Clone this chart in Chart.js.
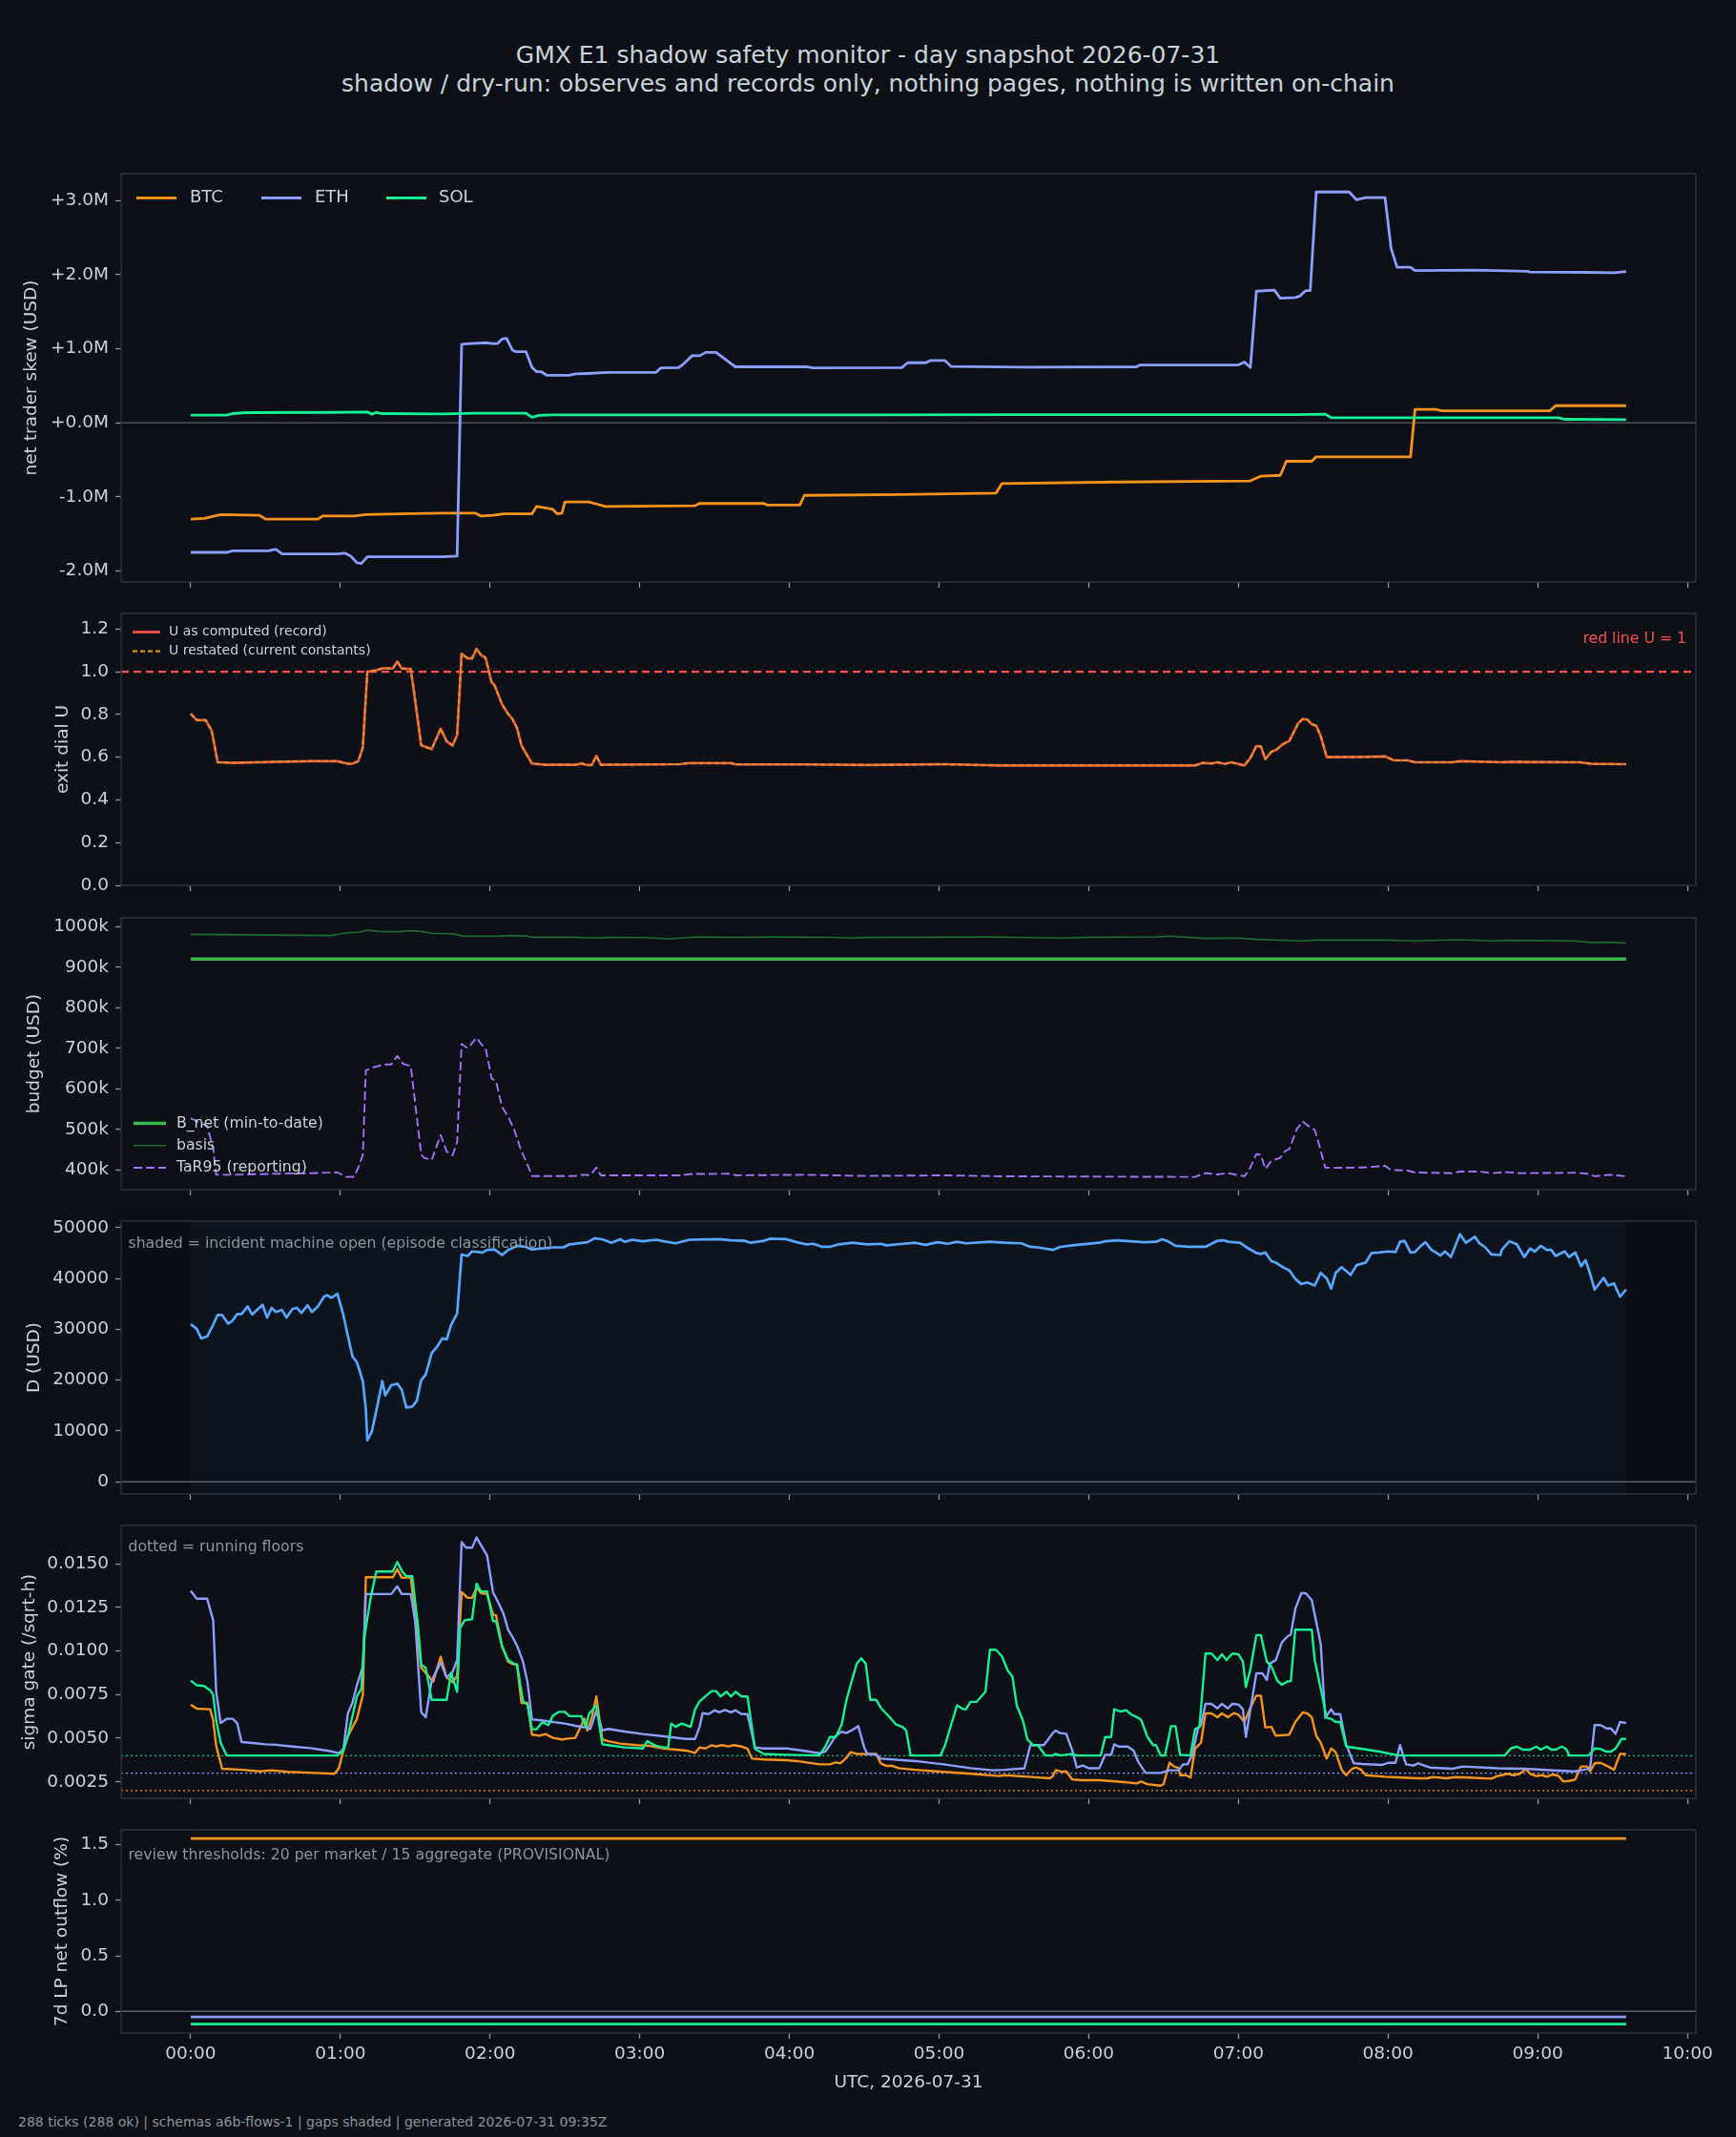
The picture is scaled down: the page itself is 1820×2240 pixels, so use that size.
<!DOCTYPE html>
<html><head><meta charset="utf-8">
<script src="https://cdn.jsdelivr.net/npm/chart.js@4.4.1/dist/chart.umd.min.js"></script>
<style>
html,body{margin:0;padding:0;background:#0d1117;}
body{width:1820px;height:2240px;position:relative;overflow:hidden;font-family:"DejaVu Sans",sans-serif;}
.t{position:absolute;left:0;width:1820px;text-align:center;color:#c9d1d9;font-size:25px;line-height:30px;white-space:nowrap;}
canvas{position:absolute;left:0;}
#foot{position:absolute;left:19px;top:2214px;color:#8b949e;font-size:14px;line-height:20px;white-space:nowrap;}
</style></head><body>
<div class="t" style="top:43px">GMX E1 shadow safety monitor - day snapshot 2026-07-31</div>
<div class="t" style="top:73px">shadow / dry-run: observes and records only, nothing pages, nothing is written on-chain</div>
<canvas id="c1" width="1820" height="452" style="top:172px"></canvas>
<canvas id="c2" width="1820" height="309" style="top:633px"></canvas>
<canvas id="c3" width="1820" height="309" style="top:952px"></canvas>
<canvas id="c4" width="1820" height="310" style="top:1270px"></canvas>
<canvas id="c5" width="1820" height="310" style="top:1589px"></canvas>
<canvas id="c6" width="1820" height="292" style="top:1908px"></canvas>
<div id="foot">288 ticks (288 ok) | schemas a6b-flows-1 | gaps shaded | generated 2026-07-31 09:35Z</div>
<script>
// ---------------- DATA (x = hours since 00:00 UTC) ----------------
const markets = ['BTC', 'ETH', 'SOL'];
const hourTicks = [0,1,2,3,4,5,6,7,8,9,10];
const hourLabels = ['00:00','01:00','02:00','03:00','04:00','05:00','06:00','07:00','08:00','09:00','10:00'];

// panel 1: net trader skew, USD millions
const skewTicks = [-2,-1,0,1,2,3];
const skewTickLabels = ['-2.0M','-1.0M','+0.0M','+1.0M','+2.0M','+3.0M'];
const skewBtcM = [[0,-1.30],[0.09,-1.29],[0.20,-1.24],[0.46,-1.25],[0.50,-1.30],[0.85,-1.30],[0.88,-1.26],[1.09,-1.26],[1.17,-1.24],[1.39,-1.23],[1.68,-1.22],[1.90,-1.22],[1.94,-1.26],[2.02,-1.25],[2.09,-1.23],[2.28,-1.23],[2.31,-1.13],[2.37,-1.15],[2.42,-1.17],[2.45,-1.23],[2.48,-1.22],[2.50,-1.07],[2.66,-1.07],[2.70,-1.09],[2.77,-1.13],[3.37,-1.12],[3.40,-1.09],[3.83,-1.09],[3.85,-1.11],[4.07,-1.11],[4.10,-0.98],[4.75,-0.97],[5.38,-0.95],[5.42,-0.82],[6.20,-0.80],[7.08,-0.785],[7.15,-0.72],[7.28,-0.71],[7.32,-0.52],[7.49,-0.52],[7.52,-0.46],[8.15,-0.46],[8.18,0.18],[8.32,0.18],[8.36,0.16],[9.08,0.16],[9.12,0.23],[9.59,0.23]];
const skewEthM = [[0,-1.75],[0.24,-1.75],[0.28,-1.73],[0.52,-1.73],[0.56,-1.71],[0.57,-1.71],[0.61,-1.77],[0.98,-1.77],[1.03,-1.76],[1.07,-1.80],[1.11,-1.89],[1.14,-1.90],[1.18,-1.81],[1.68,-1.81],[1.78,-1.80],[1.81,1.06],[1.87,1.07],[1.98,1.08],[2.01,1.07],[2.05,1.07],[2.08,1.13],[2.11,1.14],[2.15,0.98],[2.17,0.96],[2.24,0.96],[2.28,0.75],[2.31,0.69],[2.34,0.69],[2.38,0.64],[2.53,0.64],[2.57,0.66],[2.65,0.665],[2.79,0.68],[3.11,0.68],[3.14,0.74],[3.26,0.745],[3.29,0.79],[3.35,0.905],[3.40,0.905],[3.44,0.95],[3.51,0.95],[3.64,0.755],[4.12,0.755],[4.16,0.74],[4.75,0.745],[4.79,0.81],[4.91,0.81],[4.94,0.84],[5.04,0.84],[5.08,0.76],[5.59,0.75],[6.32,0.755],[6.34,0.78],[7.00,0.78],[7.04,0.82],[7.08,0.745],[7.12,1.776],[7.24,1.79],[7.28,1.68],[7.38,1.69],[7.41,1.71],[7.45,1.785],[7.48,1.785],[7.52,3.115],[7.74,3.115],[7.79,3.01],[7.85,3.04],[7.98,3.04],[8.02,2.355],[8.06,2.10],[8.15,2.10],[8.18,2.055],[8.58,2.06],[8.93,2.045],[8.95,2.035],[9.33,2.03],[9.51,2.025],[9.59,2.04]];
const skewSolM = [[0,0.103],[0.24,0.103],[0.28,0.124],[0.37,0.137],[0.94,0.14],[1.18,0.146],[1.21,0.116],[1.24,0.14],[1.28,0.124],[1.68,0.12],[1.90,0.13],[2.24,0.13],[2.28,0.073],[2.33,0.10],[2.42,0.107],[4.52,0.107],[5.5,0.11],[7.38,0.11],[7.58,0.116],[7.62,0.069],[9.14,0.069],[9.18,0.047],[9.59,0.043]];

// panel 2: exit dial U
const uTicks = [0,0.2,0.4,0.6,0.8,1.0,1.2];
const uTickLabels = ['0.0','0.2','0.4','0.6','0.8','1.0','1.2'];
const redLineU = 1;
const uRecord = [[0,0.803],[0.04,0.773],[0.10,0.773],[0.14,0.724],[0.18,0.576],[0.28,0.573],[0.57,0.578],[0.80,0.581],[0.98,0.581],[1.05,0.569],[1.08,0.569],[1.12,0.581],[1.15,0.647],[1.18,1.0],[1.24,1.007],[1.28,1.015],[1.35,1.015],[1.38,1.047],[1.41,1.015],[1.47,1.012],[1.49,0.914],[1.54,0.655],[1.57,0.648],[1.61,0.637],[1.67,0.733],[1.71,0.674],[1.75,0.655],[1.78,0.704],[1.81,1.084],[1.85,1.062],[1.88,1.062],[1.91,1.107],[1.94,1.077],[1.97,1.065],[2.01,0.951],[2.03,0.936],[2.08,0.847],[2.12,0.803],[2.15,0.778],[2.18,0.736],[2.21,0.655],[2.24,0.618],[2.28,0.57],[2.37,0.564],[2.57,0.564],[2.61,0.57],[2.65,0.563],[2.68,0.563],[2.71,0.606],[2.74,0.564],[3.27,0.567],[3.33,0.572],[3.61,0.572],[3.64,0.566],[4.09,0.566],[4.52,0.563],[5.03,0.567],[5.40,0.561],[6.71,0.561],[6.76,0.573],[6.82,0.570],[6.86,0.576],[6.91,0.568],[6.95,0.576],[7.04,0.561],[7.08,0.596],[7.12,0.652],[7.15,0.65],[7.18,0.591],[7.22,0.625],[7.25,0.633],[7.30,0.662],[7.34,0.676],[7.40,0.759],[7.43,0.778],[7.46,0.776],[7.49,0.754],[7.52,0.747],[7.55,0.699],[7.59,0.60],[7.64,0.60],[7.83,0.601],[7.98,0.603],[8.04,0.585],[8.13,0.585],[8.18,0.576],[8.43,0.576],[8.48,0.581],[8.76,0.576],[8.82,0.578],[9.28,0.576],[9.36,0.569],[9.59,0.567]];
const uRestated = [[0,0.803],[0.04,0.773],[0.10,0.773],[0.14,0.724],[0.18,0.576],[0.28,0.573],[0.57,0.578],[0.80,0.581],[0.98,0.581],[1.05,0.569],[1.08,0.569],[1.12,0.581],[1.15,0.647],[1.18,1.0],[1.24,1.007],[1.28,1.015],[1.35,1.015],[1.38,1.047],[1.41,1.015],[1.47,1.012],[1.49,0.914],[1.54,0.655],[1.57,0.648],[1.61,0.637],[1.67,0.733],[1.71,0.674],[1.75,0.655],[1.78,0.704],[1.81,1.084],[1.85,1.062],[1.88,1.062],[1.91,1.107],[1.94,1.077],[1.97,1.065],[2.01,0.951],[2.03,0.936],[2.08,0.847],[2.12,0.803],[2.15,0.778],[2.18,0.736],[2.21,0.655],[2.24,0.618],[2.28,0.57],[2.37,0.564],[2.57,0.564],[2.61,0.57],[2.65,0.563],[2.68,0.563],[2.71,0.606],[2.74,0.564],[3.27,0.567],[3.33,0.572],[3.61,0.572],[3.64,0.566],[4.09,0.566],[4.52,0.563],[5.03,0.567],[5.40,0.561],[6.71,0.561],[6.76,0.573],[6.82,0.570],[6.86,0.576],[6.91,0.568],[6.95,0.576],[7.04,0.561],[7.08,0.596],[7.12,0.652],[7.15,0.65],[7.18,0.591],[7.22,0.625],[7.25,0.633],[7.30,0.662],[7.34,0.676],[7.40,0.759],[7.43,0.778],[7.46,0.776],[7.49,0.754],[7.52,0.747],[7.55,0.699],[7.59,0.60],[7.64,0.60],[7.83,0.601],[7.98,0.603],[8.04,0.585],[8.13,0.585],[8.18,0.576],[8.43,0.576],[8.48,0.581],[8.76,0.576],[8.82,0.578],[9.28,0.576],[9.36,0.569],[9.59,0.567]];

// panel 3: budget, thousands of USD
const budgetTicks = [400,500,600,700,800,900,1000];
const budgetTickLabels = ['400k','500k','600k','700k','800k','900k','1000k'];
const bNetK = [[0,920],[9.59,920]];
const basisK = [[0,981],[0.20,980.4],[0.94,978],[1.02,983.5],[1.13,986.7],[1.18,991.4],[1.26,988],[1.39,987.5],[1.46,990],[1.54,988],[1.61,983.5],[1.76,982],[1.81,977],[2.05,976.5],[2.13,978],[2.24,977],[2.28,974],[2.53,974],[2.72,971.8],[2.79,973.3],[3.02,973],[3.20,970],[3.39,975],[3.53,974],[3.68,973.5],[3.90,975],[4.09,974],[4.27,973.5],[4.42,972],[4.52,973.3],[4.99,974],[5.33,975],[5.59,973],[5.81,971.8],[6.04,974],[6.45,975],[6.54,976.5],[6.78,971],[7.01,972],[7.12,968.6],[7.42,964.7],[7.53,967],[7.98,967],[8.17,964.7],[8.47,967.8],[8.69,965],[8.80,966.3],[9.25,965],[9.36,960.8],[9.48,961.5],[9.59,959.2]];
const tar95K = [[0,527.8],[0.06,516],[0.11,508],[0.15,453],[0.17,388],[0.28,388],[0.57,390.6],[0.80,392],[0.98,393.7],[1.04,382.7],[1.09,383],[1.12,406],[1.15,437.6],[1.17,645.5],[1.22,653],[1.29,660],[1.34,660],[1.38,681],[1.42,661.6],[1.47,656],[1.50,563],[1.54,437.6],[1.56,430],[1.61,424.3],[1.67,486],[1.71,445.5],[1.75,436],[1.78,469],[1.81,710.6],[1.85,700.4],[1.91,726],[1.94,710.6],[1.97,700.4],[2.01,626],[2.04,618],[2.08,555],[2.12,532],[2.16,500.4],[2.21,445.5],[2.24,422],[2.28,385],[2.57,385],[2.61,388],[2.67,387],[2.71,406],[2.74,386.7],[3.27,386.7],[3.35,390],[3.61,390.6],[3.64,386.7],[4.09,388],[4.52,385],[5.03,386.7],[5.40,384.3],[6.71,382.7],[6.78,392],[6.86,389],[6.93,392],[7.04,384.3],[7.07,398.4],[7.12,439],[7.15,437],[7.18,402.4],[7.22,422],[7.28,430],[7.31,445.5],[7.34,451.8],[7.39,500.4],[7.43,519],[7.47,508],[7.51,499],[7.54,461],[7.58,406],[7.62,405],[7.83,406],[7.98,410],[8.02,400],[8.13,398.4],[8.18,393.7],[8.43,392],[8.48,396],[8.61,396],[8.69,392],[8.80,394.5],[8.88,392],[9.25,393],[9.33,390.6],[9.38,384.3],[9.48,388],[9.59,384.3]];

// panel 4: D, USD
const dTicks = [0,10000,20000,30000,40000,50000];
const dTickLabels = ['0','10000','20000','30000','40000','50000'];
const incidentOpen = [[0, 9.586]];
const dUsd = [[0,31000],[0.04,30100],[0.07,28200],[0.11,28600],[0.15,30900],[0.18,32800],[0.21,32800],[0.25,31100],[0.28,31700],[0.31,33000],[0.34,33000],[0.38,34500],[0.41,32900],[0.44,33700],[0.48,34800],[0.51,32300],[0.54,34200],[0.57,33400],[0.61,33800],[0.64,32300],[0.68,34000],[0.71,34200],[0.74,33200],[0.78,34700],[0.81,33400],[0.85,34500],[0.89,36400],[0.91,36700],[0.94,36200],[0.98,37000],[1.02,32800],[1.05,28700],[1.08,24700],[1.11,23500],[1.15,19800],[1.17,14300],[1.18,8200],[1.21,9900],[1.24,14000],[1.28,19800],[1.30,17000],[1.34,19000],[1.38,19300],[1.41,18100],[1.44,14600],[1.48,14800],[1.51,15900],[1.54,20000],[1.57,21100],[1.61,25300],[1.65,26700],[1.68,28200],[1.71,28000],[1.74,30900],[1.78,33100],[1.81,44700],[1.85,44400],[1.88,45300],[1.95,45100],[1.98,45600],[2.03,45700],[2.08,44600],[2.12,45600],[2.18,46400],[2.24,46200],[2.28,45700],[2.42,46100],[2.49,46100],[2.53,46700],[2.65,47100],[2.70,47900],[2.76,47600],[2.81,47000],[2.87,47700],[2.90,47200],[2.95,47600],[3.02,47300],[3.11,47600],[3.16,47300],[3.24,46900],[3.33,47600],[3.53,47700],[3.61,47500],[3.70,47400],[3.74,47000],[3.83,47400],[3.87,47800],[3.98,47700],[4.05,47100],[4.11,46700],[4.16,46800],[4.22,46200],[4.27,46200],[4.33,46700],[4.42,47000],[4.52,46700],[4.61,46800],[4.65,46500],[4.76,46800],[4.84,47000],[4.91,46600],[4.99,47100],[5.06,46800],[5.12,47200],[5.18,46900],[5.34,47200],[5.44,47000],[5.55,46900],[5.61,46200],[5.66,46100],[5.76,45600],[5.81,46200],[5.89,46500],[6.07,47000],[6.11,47300],[6.19,47500],[6.37,47100],[6.45,47200],[6.49,47700],[6.53,47300],[6.58,46400],[6.67,46200],[6.78,46200],[6.86,47400],[6.90,47500],[6.93,47200],[7.01,47000],[7.05,46200],[7.12,45000],[7.15,44800],[7.18,45100],[7.22,43400],[7.25,43100],[7.31,42000],[7.34,41600],[7.38,39900],[7.42,38900],[7.46,39200],[7.51,38600],[7.55,41100],[7.59,40000],[7.62,38000],[7.65,41100],[7.69,42200],[7.75,40700],[7.79,42600],[7.85,43100],[7.89,45000],[7.94,45100],[8.00,45300],[8.05,45200],[8.08,47200],[8.11,47400],[8.15,45100],[8.18,45200],[8.22,46400],[8.25,47100],[8.29,45600],[8.33,44900],[8.35,44500],[8.38,45300],[8.42,44200],[8.48,48700],[8.52,47000],[8.58,48200],[8.61,46900],[8.65,46100],[8.69,44700],[8.75,44600],[8.76,45600],[8.81,47300],[8.86,46700],[8.91,44200],[8.95,45900],[8.98,45300],[9.02,46400],[9.06,45600],[9.09,45600],[9.12,44400],[9.18,45300],[9.21,44200],[9.25,45100],[9.29,42400],[9.32,43600],[9.35,40900],[9.38,37800],[9.44,40100],[9.47,38600],[9.51,39000],[9.55,36400],[9.59,37800]];

// panel 5: sigma gate (/sqrt-h)
const sigmaTicks = [0.0025,0.005,0.0075,0.01,0.0125,0.015];
const sigmaTickLabels = ['0.0025','0.0050','0.0075','0.0100','0.0125','0.0150'];
const sigmaFloors = [0.002, 0.003, 0.004]; // BTC, ETH, SOL running floors
const sigmaBtc = [[0,0.00693],[0.04,0.00669],[0.13,0.00666],[0.15,0.00602],[0.17,0.00456],[0.21,0.00325],[0.35,0.00319],[0.46,0.00310],[0.54,0.00316],[0.65,0.00307],[0.83,0.00301],[0.96,0.00296],[0.99,0.00328],[1.02,0.00429],[1.05,0.00511],[1.11,0.00611],[1.15,0.00748],[1.17,0.01422],[1.35,0.01422],[1.38,0.01468],[1.41,0.01419],[1.47,0.01422],[1.49,0.01277],[1.54,0.00903],[1.57,0.00875],[1.62,0.00824],[1.67,0.00967],[1.71,0.00848],[1.75,0.00821],[1.78,0.00857],[1.81,0.01337],[1.85,0.01304],[1.88,0.01304],[1.91,0.01364],[1.94,0.01331],[1.98,0.01326],[2.02,0.01207],[2.04,0.01204],[2.08,0.01030],[2.12,0.00939],[2.15,0.00925],[2.18,0.00922],[2.21,0.00702],[2.25,0.00702],[2.28,0.00520],[2.33,0.00514],[2.37,0.00524],[2.42,0.00502],[2.48,0.00493],[2.52,0.00498],[2.57,0.00502],[2.59,0.00538],[2.63,0.00611],[2.65,0.00544],[2.68,0.00620],[2.71,0.00739],[2.75,0.00493],[2.79,0.00483],[2.87,0.00469],[2.98,0.00460],[3.07,0.00456],[3.16,0.00441],[3.31,0.00429],[3.37,0.00416],[3.40,0.00447],[3.44,0.00441],[3.48,0.00460],[3.51,0.00453],[3.55,0.00460],[3.59,0.00453],[3.63,0.00460],[3.68,0.00452],[3.72,0.00440],[3.75,0.00383],[3.83,0.00378],[3.98,0.00374],[4.05,0.00369],[4.20,0.00350],[4.27,0.00350],[4.31,0.00361],[4.34,0.00356],[4.38,0.00387],[4.41,0.00420],[4.45,0.00410],[4.58,0.00410],[4.61,0.00356],[4.65,0.00341],[4.69,0.00341],[4.73,0.00328],[4.84,0.00319],[5.03,0.00307],[5.21,0.00296],[5.40,0.00283],[5.44,0.00288],[5.59,0.00279],[5.74,0.00270],[5.76,0.00283],[5.78,0.00317],[5.82,0.00307],[5.85,0.00310],[5.89,0.00263],[5.96,0.00259],[6.07,0.00259],[6.22,0.00250],[6.32,0.00241],[6.35,0.00252],[6.39,0.00237],[6.48,0.00228],[6.50,0.00237],[6.54,0.00359],[6.57,0.00338],[6.60,0.00330],[6.61,0.00288],[6.65,0.00288],[6.68,0.00274],[6.71,0.00441],[6.75,0.00474],[6.78,0.00642],[6.82,0.00642],[6.86,0.00620],[6.89,0.00642],[6.93,0.00620],[6.97,0.00644],[7.00,0.00635],[7.04,0.00593],[7.08,0.00675],[7.12,0.00744],[7.15,0.00744],[7.18,0.00562],[7.22,0.00565],[7.25,0.00514],[7.34,0.00520],[7.38,0.00593],[7.43,0.00648],[7.46,0.00642],[7.49,0.00620],[7.52,0.00514],[7.55,0.00474],[7.59,0.00383],[7.62,0.00441],[7.65,0.00420],[7.69,0.00319],[7.72,0.00288],[7.76,0.00325],[7.79,0.00332],[7.82,0.00319],[7.85,0.00288],[7.98,0.00279],[8.09,0.00274],[8.20,0.00270],[8.26,0.00270],[8.30,0.00277],[8.39,0.00270],[8.45,0.00277],[8.54,0.00274],[8.69,0.00268],[8.73,0.00283],[8.76,0.00288],[8.80,0.00296],[8.84,0.00288],[8.88,0.00296],[8.92,0.00323],[8.95,0.00296],[8.99,0.00283],[9.03,0.00288],[9.06,0.00279],[9.10,0.00292],[9.14,0.00283],[9.17,0.00252],[9.21,0.00255],[9.25,0.00263],[9.29,0.00338],[9.33,0.00338],[9.35,0.00310],[9.38,0.00356],[9.42,0.00359],[9.47,0.00338],[9.51,0.00319],[9.55,0.00410],[9.59,0.00410]];
const sigmaEth = [[0,0.01344],[0.04,0.01299],[0.11,0.01299],[0.15,0.01176],[0.17,0.00766],[0.20,0.00587],[0.24,0.00611],[0.28,0.00611],[0.31,0.00587],[0.34,0.00478],[0.43,0.00471],[0.50,0.00465],[0.57,0.00462],[0.68,0.00452],[0.80,0.00443],[0.91,0.00429],[0.99,0.00414],[1.02,0.00438],[1.05,0.00642],[1.08,0.00702],[1.11,0.00803],[1.15,0.00912],[1.17,0.01326],[1.34,0.01326],[1.38,0.01371],[1.41,0.01326],[1.47,0.01326],[1.50,0.01167],[1.54,0.00648],[1.57,0.00620],[1.61,0.00830],[1.67,0.00934],[1.71,0.00848],[1.75,0.00881],[1.78,0.00948],[1.81,0.01623],[1.84,0.01592],[1.88,0.01592],[1.91,0.01650],[1.94,0.01605],[1.98,0.01547],[2.02,0.01335],[2.05,0.01286],[2.09,0.01213],[2.12,0.01122],[2.15,0.01080],[2.18,0.01030],[2.22,0.00939],[2.25,0.00821],[2.28,0.00607],[2.35,0.00602],[2.42,0.00593],[2.50,0.00584],[2.57,0.00571],[2.65,0.00560],[2.67,0.00553],[2.71,0.00657],[2.75,0.00544],[2.79,0.00553],[2.90,0.00538],[3.02,0.00524],[3.16,0.00511],[3.31,0.00496],[3.37,0.00496],[3.40,0.00565],[3.42,0.00644],[3.46,0.00638],[3.50,0.00660],[3.53,0.00648],[3.57,0.00662],[3.61,0.00648],[3.64,0.00660],[3.68,0.00638],[3.72,0.00638],[3.77,0.00447],[3.83,0.00441],[3.98,0.00441],[4.09,0.00429],[4.20,0.00414],[4.24,0.00423],[4.27,0.00460],[4.31,0.00514],[4.35,0.00538],[4.38,0.00529],[4.42,0.00547],[4.46,0.00569],[4.50,0.00447],[4.52,0.00410],[4.58,0.00405],[4.61,0.00383],[4.84,0.00369],[5.03,0.00350],[5.21,0.00328],[5.36,0.00316],[5.44,0.00319],[5.57,0.00328],[5.61,0.00460],[5.70,0.00460],[5.76,0.00529],[5.78,0.00544],[5.81,0.00529],[5.85,0.00525],[5.89,0.00429],[5.92,0.00332],[5.96,0.00343],[6.00,0.00328],[6.07,0.00328],[6.11,0.00405],[6.15,0.00405],[6.17,0.00465],[6.20,0.00452],[6.26,0.00452],[6.30,0.00429],[6.33,0.00365],[6.38,0.00301],[6.48,0.00301],[6.54,0.00316],[6.60,0.00316],[6.63,0.00350],[6.66,0.00350],[6.69,0.00401],[6.73,0.00556],[6.75,0.00575],[6.78,0.00697],[6.82,0.00697],[6.86,0.00671],[6.89,0.00697],[6.93,0.00671],[6.96,0.00697],[7.00,0.00693],[7.03,0.00666],[7.05,0.00507],[7.12,0.00872],[7.16,0.00872],[7.19,0.00835],[7.21,0.00927],[7.25,0.00948],[7.29,0.01049],[7.33,0.01085],[7.35,0.01094],[7.38,0.01240],[7.42,0.01331],[7.45,0.01331],[7.49,0.01291],[7.52,0.01167],[7.55,0.01040],[7.58,0.00617],[7.62,0.00666],[7.64,0.00638],[7.68,0.00638],[7.72,0.00465],[7.77,0.00356],[7.83,0.00352],[7.96,0.00347],[8.00,0.00359],[8.05,0.00359],[8.08,0.00460],[8.12,0.00350],[8.17,0.00343],[8.20,0.00356],[8.28,0.00332],[8.43,0.00325],[8.50,0.00338],[8.73,0.00328],[8.91,0.00325],[9.14,0.00314],[9.25,0.00310],[9.33,0.00323],[9.35,0.00328],[9.38,0.00575],[9.42,0.00575],[9.46,0.00556],[9.49,0.00556],[9.52,0.00525],[9.55,0.00593],[9.59,0.00587]];
const sigmaSol = [[0,0.00830],[0.04,0.00803],[0.09,0.00799],[0.13,0.00775],[0.15,0.00748],[0.17,0.00602],[0.20,0.00474],[0.24,0.00401],[0.98,0.00401],[1.02,0.00429],[1.05,0.00511],[1.11,0.00739],[1.14,0.00784],[1.16,0.01076],[1.20,0.01295],[1.24,0.01455],[1.35,0.01455],[1.38,0.01510],[1.41,0.01459],[1.44,0.01428],[1.48,0.01428],[1.52,0.01131],[1.54,0.00921],[1.57,0.00903],[1.61,0.00720],[1.71,0.00720],[1.74,0.00875],[1.78,0.00766],[1.80,0.01131],[1.83,0.01176],[1.88,0.01182],[1.91,0.01386],[1.94,0.01340],[1.98,0.01340],[2.02,0.01171],[2.04,0.01171],[2.08,0.01025],[2.12,0.00948],[2.16,0.00927],[2.18,0.00922],[2.22,0.00711],[2.25,0.00693],[2.28,0.00551],[2.31,0.00551],[2.35,0.00593],[2.39,0.00575],[2.42,0.00629],[2.46,0.00651],[2.50,0.00651],[2.53,0.00626],[2.61,0.00626],[2.64,0.00565],[2.66,0.00638],[2.71,0.00689],[2.75,0.00465],[2.79,0.00460],[2.90,0.00447],[3.02,0.00441],[3.05,0.00483],[3.11,0.00456],[3.16,0.00447],[3.19,0.00447],[3.21,0.00584],[3.24,0.00565],[3.28,0.00584],[3.34,0.00565],[3.37,0.00666],[3.40,0.00711],[3.45,0.00748],[3.48,0.00770],[3.51,0.00770],[3.54,0.00739],[3.58,0.00766],[3.61,0.00739],[3.64,0.00766],[3.68,0.00739],[3.72,0.00739],[3.77,0.00438],[3.83,0.00410],[3.98,0.00405],[4.20,0.00401],[4.24,0.00452],[4.27,0.00507],[4.31,0.00507],[4.35,0.00580],[4.38,0.00715],[4.42,0.00839],[4.45,0.00927],[4.48,0.00958],[4.51,0.00927],[4.54,0.00720],[4.58,0.00720],[4.61,0.00675],[4.67,0.00620],[4.71,0.00580],[4.76,0.00562],[4.78,0.00544],[4.81,0.00401],[5.01,0.00401],[5.04,0.00460],[5.08,0.00575],[5.12,0.00689],[5.16,0.00666],[5.18,0.00666],[5.21,0.00708],[5.25,0.00708],[5.31,0.00766],[5.34,0.01007],[5.38,0.01007],[5.42,0.00970],[5.46,0.00885],[5.49,0.00854],[5.52,0.00684],[5.56,0.00602],[5.59,0.00493],[5.63,0.00460],[5.66,0.00460],[5.71,0.00401],[5.76,0.00401],[5.78,0.00410],[5.81,0.00401],[5.89,0.00410],[5.92,0.00401],[6.08,0.00401],[6.11,0.00507],[6.15,0.00507],[6.17,0.00666],[6.21,0.00653],[6.25,0.00660],[6.28,0.00638],[6.33,0.00617],[6.35,0.00605],[6.39,0.00511],[6.43,0.00460],[6.45,0.00460],[6.48,0.00401],[6.51,0.00401],[6.55,0.00569],[6.58,0.00569],[6.61,0.00405],[6.68,0.00401],[6.71,0.00551],[6.74,0.00565],[6.78,0.00985],[6.82,0.00985],[6.86,0.00948],[6.89,0.00981],[6.92,0.00948],[6.96,0.00985],[7.00,0.00981],[7.03,0.00939],[7.05,0.00793],[7.08,0.00894],[7.12,0.01091],[7.15,0.01091],[7.19,0.00939],[7.22,0.00912],[7.26,0.00830],[7.29,0.00806],[7.33,0.00826],[7.35,0.00826],[7.38,0.01122],[7.49,0.01122],[7.51,0.00948],[7.55,0.00784],[7.59,0.00617],[7.62,0.00611],[7.65,0.00593],[7.68,0.00593],[7.72,0.00452],[7.83,0.00438],[7.94,0.00423],[8.05,0.00405],[8.09,0.00401],[8.78,0.00401],[8.82,0.00441],[8.86,0.00452],[8.90,0.00434],[8.95,0.00434],[8.99,0.00452],[9.02,0.00434],[9.06,0.00452],[9.09,0.00434],[9.12,0.00434],[9.16,0.00452],[9.19,0.00438],[9.21,0.00401],[9.34,0.00401],[9.38,0.00441],[9.42,0.00438],[9.46,0.00423],[9.49,0.00423],[9.52,0.00441],[9.56,0.00496],[9.59,0.00496]];

// panel 6: 7d LP net outflow (%)
const lpTicks = [0,0.5,1.0,1.5];
const lpTickLabels = ['0.0','0.5','1.0','1.5'];
const lpBtc = [[0,1.556],[9.59,1.556]];
const lpEth = [[0,-0.05],[9.59,-0.05]];
const lpSol = [[0,-0.115],[9.59,-0.115]];

// ---------------- STYLE ----------------
const C = { btc:'#f7931a', eth:'#8c9eff', sol:'#14f195', text:'#c9d1d9', dim:'#8b949e',
  frame:'#2a3038', tick:'#8b949e', zero:'#5a6068', red:'#f85149', gold:'#d29922',
  green:'#3fb950', basis:'#1f6b33', purple:'#a371f7', blue:'#58a6ff' };
const FONT = '"DejaVu Sans", sans-serif';
Chart.defaults.font.family = FONT;
Chart.defaults.color = C.text;

const deco = {
  id: 'deco',
  beforeDatasetsDraw(chart, args, o) {
    const {ctx, chartArea: a, scales: {x, y}} = chart;
    ctx.save();
    if (o.face) { ctx.fillStyle = o.face; ctx.fillRect(a.left, a.top, a.width, a.height); }
    (o.shades || []).forEach(s => {
      const x0 = x.getPixelForValue(s[0]), x1 = x.getPixelForValue(s[1]);
      ctx.fillStyle = o.shadeColor; ctx.fillRect(x0, a.top, x1 - x0, a.height);
    });
    (o.hlines || []).forEach(h => {
      const py = y.getPixelForValue(h.value);
      ctx.beginPath(); ctx.setLineDash(h.dash || []); ctx.strokeStyle = h.color; ctx.lineWidth = h.width;
      ctx.moveTo(a.left, py); ctx.lineTo(a.right, py); ctx.stroke();
    });
    ctx.restore();
  },
  afterDatasetsDraw(chart, args, o) {
    const {ctx} = chart; const top = o.top;
    ctx.save();
    (o.texts || []).forEach(t => {
      ctx.font = t.size + 'px ' + FONT; ctx.fillStyle = t.color; ctx.textBaseline = 'middle';
      ctx.textAlign = t.align || 'left'; ctx.fillText(t.text, t.x, t.y - top);
    });
    if (o.legend) {
      const L = o.legend;
      L.items.forEach(it => {
        const ds = chart.data.datasets[it.i];
        const yy = it.y - top;
        ctx.beginPath(); ctx.strokeStyle = ds.borderColor; ctx.lineWidth = it.lw || ds.borderWidth;
        ctx.setLineDash(ds.borderDash || []); ctx.lineCap = 'butt';
        ctx.moveTo(it.x0, yy); ctx.lineTo(it.x1, yy); ctx.stroke(); ctx.setLineDash([]);
        ctx.font = L.size + 'px ' + FONT; ctx.fillStyle = C.text; ctx.textBaseline = 'middle'; ctx.textAlign = 'left';
        ctx.fillText(ds.label, it.tx, yy);
      });
    }
    ctx.restore();
  },
  afterDraw(chart) {
    const {ctx, chartArea: a} = chart;
    ctx.save(); ctx.strokeStyle = C.frame; ctx.lineWidth = 1.5;
    ctx.strokeRect(a.left, a.top, a.width, a.height); ctx.restore();
  }
};

function line(label, data, color, width, extra) {
  return Object.assign({ label, data, borderColor: color, backgroundColor: color, borderWidth: width,
    pointRadius: 0, tension: 0, fill: false, borderJoinStyle: 'round' }, extra || {});
}

function makeChart(id, cfg) {
  const gridOpt = { display: true, drawOnChartArea: false, drawTicks: true, tickLength: 6, tickColor: C.tick, tickWidth: 1.3 };
  return new Chart(document.getElementById(id), {
    type: 'line',
    data: { datasets: cfg.datasets },
    options: {
      responsive: false, animation: false, devicePixelRatio: 1,
      layout: { padding: { left: 0, right: 42, top: 10, bottom: 0 } },
      plugins: { legend: { display: false }, tooltip: { enabled: false }, deco: cfg.deco },
      scales: {
        x: {
          type: 'linear', min: -0.465, max: 10.057,
          afterBuildTicks: s => { s.ticks = hourTicks.map(v => ({ value: v })); },
          afterFit: s => { s.height = cfg.xH; s.paddingLeft = 0; s.paddingRight = 0; },
          grid: gridOpt, border: { display: false },
          ticks: { display: !!cfg.xLabels, padding: 5, color: C.text, font: { size: 18.5 }, maxRotation: 0, autoSkip: false,
                   callback: (v, i) => hourLabels[i] },
          title: { display: !!cfg.xLabels, text: 'UTC, 2026-07-31', color: C.text, font: { size: 18.5 }, padding: { top: 0, bottom: 6 } }
        },
        y: {
          type: 'linear', min: cfg.yMin, max: cfg.yMax,
          afterBuildTicks: s => { s.ticks = cfg.yTicks.map(v => ({ value: v })); },
          afterFit: s => { s.width = 127; s.paddingTop = 0; s.paddingBottom = 0; },
          grid: gridOpt, border: { display: false },
          ticks: { padding: 7, color: C.text, font: { size: 18.5 }, autoSkip: false, callback: (v, i) => cfg.yLabels[i] },
          title: { display: true, text: cfg.yTitle, color: C.text, font: { size: 18.5 }, padding: { top: cfg.yTitlePad, bottom: 0 } }
        }
      }
    },
    plugins: [deco]
  });
}

// ---- panel 1
makeChart('c1', {
  yMin: -2.149, yMax: 3.363, yTicks: skewTicks, yLabels: skewTickLabels, yTitle: 'net trader skew (USD)', yTitlePad: 22, xH: 14,
  datasets: [ line(markets[0], skewBtcM, C.btc, 2.8, {order: 3}), line(markets[1], skewEthM, C.eth, 2.8, {order: 2}), line(markets[2], skewSolM, C.sol, 2.8, {order: 1}) ],
  deco: { top: 172, hlines: [{ value: 0, color: C.zero, width: 1.4 }],
    legend: { size: 18, items: [ {i:0, x0:143, x1:185, y:207.5, tx:199, lw:2.8}, {i:1, x0:274, x1:316, y:207.5, tx:330, lw:2.8}, {i:2, x0:405, x1:447, y:207.5, tx:460, lw:2.8} ] } }
});

// ---- panel 2
makeChart('c2', {
  yMin: 0, yMax: 1.2725, yTicks: uTicks, yLabels: uTickLabels, yTitle: 'exit dial U', yTitlePad: 55, xH: 14,
  datasets: [ line('U as computed (record)', uRecord, C.red, 2.7, {order: 2}), line('U restated (current constants)', uRestated, C.gold, 2.0, {order: 1, borderDash: [5, 3]}) ],
  deco: { top: 633, hlines: [{ value: redLineU, color: C.red, width: 2.2, dash: [8, 5] }],
    texts: [{ text: 'red line U = 1', x: 1768, y: 669.5, size: 15.7, color: C.red, align: 'right' }],
    legend: { size: 14, items: [ {i:0, x0:139, x1:168, y:662.5, tx:177, lw:2.8}, {i:1, x0:139, x1:168, y:682.7, tx:177, lw:2.2} ] } }
});

// ---- panel 3
makeChart('c3', {
  yMin: 351.3, yMax: 1021.9, yTicks: budgetTicks, yLabels: budgetTickLabels, yTitle: 'budget (USD)', yTitlePad: 25, xH: 14,
  datasets: [ line('B_net (min-to-date)', bNetK, C.green, 3.6, {order: 1}), line('basis', basisK, C.basis, 1.6, {order: 2}), line('TaR95 (reporting)', tar95K, C.purple, 1.9, {order: 3, borderDash: [9, 4]}) ],
  deco: { top: 952,
    legend: { size: 15.7, items: [ {i:0, x0:140, x1:174, y:1177.5, tx:185}, {i:1, x0:140, x1:174, y:1200.7, tx:185}, {i:2, x0:140, x1:174, y:1224, tx:185} ] } }
});

// ---- panel 4
makeChart('c4', {
  yMin: -2384, yMax: 51258, yTicks: dTicks, yLabels: dTickLabels, yTitle: 'D (USD)', yTitlePad: 25, xH: 14,
  datasets: [ line('D', dUsd, C.blue, 2.7) ],
  deco: { top: 1270, shades: incidentOpen, shadeColor: 'rgba(88,166,255,0.045)', face: '#0b0e14',
    hlines: [{ value: 0, color: C.zero, width: 1.4 }],
    texts: [{ text: 'shaded = incident machine open (episode classification)', x: 134.5, y: 1303.5, size: 15.7, color: C.dim }] }
});

// ---- panel 5
makeChart('c5', {
  yMin: 0.001554, yMax: 0.01719, yTicks: sigmaTicks, yLabels: sigmaTickLabels, yTitle: 'sigma gate (/sqrt-h)', yTitlePad: 20, xH: 14,
  datasets: [ line(markets[0], sigmaBtc, C.btc, 2.4, {order: 3}), line(markets[1], sigmaEth, C.eth, 2.4, {order: 2}), line(markets[2], sigmaSol, C.sol, 2.4, {order: 1}) ],
  deco: { top: 1589,
    hlines: [ { value: sigmaFloors[0], color: C.btc, width: 1.2, dash: [2, 3] }, { value: sigmaFloors[1], color: C.eth, width: 1.2, dash: [2, 3] }, { value: sigmaFloors[2], color: C.sol, width: 1.2, dash: [2, 3] } ],
    texts: [{ text: 'dotted = running floors', x: 134.5, y: 1622.3, size: 15.7, color: C.dim }] }
});

// ---- panel 6
makeChart('c6', {
  yMin: -0.195, yMax: 1.634, yTicks: lpTicks, yLabels: lpTickLabels, yTitle: '7d LP net outflow (%)', yTitlePad: 54, xH: 69, xLabels: true,
  datasets: [ line(markets[0], lpBtc, C.btc, 2.8, {order: 3}), line(markets[1], lpEth, C.eth, 2.8, {order: 2}), line(markets[2], lpSol, C.sol, 2.8, {order: 1}) ],
  deco: { top: 1908, hlines: [{ value: 0, color: C.zero, width: 1.4 }],
    texts: [{ text: 'review thresholds: 20 per market / 15 aggregate (PROVISIONAL)', x: 134.5, y: 1944.5, size: 15.7, color: C.dim }] }
});
</script>
</body></html>
